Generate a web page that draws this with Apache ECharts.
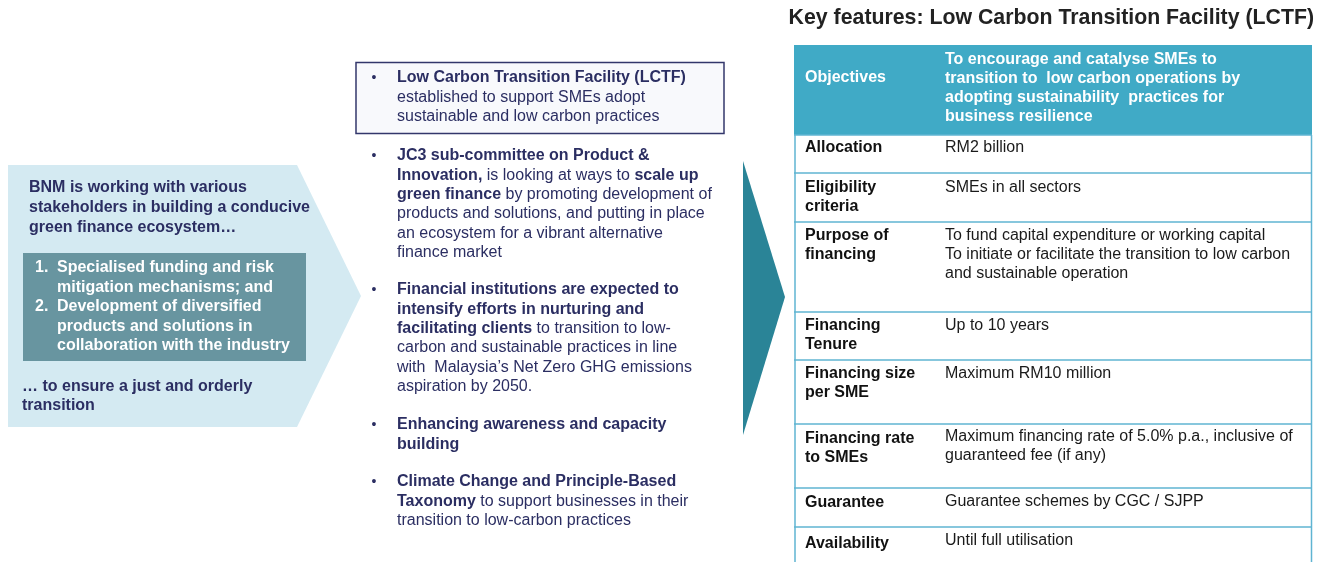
<!DOCTYPE html>
<html><head><meta charset="utf-8">
<script src="https://cdn.jsdelivr.net/npm/echarts@6/dist/echarts.min.js"></script>
<style>html,body{margin:0;padding:0;background:#fff}#c{width:1325px;height:562px}</style>
</head><body><div id="c"></div>
<script>
// ---------- content (text data) ----------
const titleText = 'Key features: Low Carbon Transition Facility (LCTF)';
const leftIntro = ['BNM is working with various', 'stakeholders in building a conducive', 'green finance ecosystem…'];
const leftItemNumbers = ['1.', '', '2.', '', ''];
const leftItems = ['Specialised funding and risk', 'mitigation mechanisms; and', 'Development of diversified', 'products and solutions in', 'collaboration with the industry'];
const leftOutro = ['… to ensure a just and orderly', 'transition'];
const bulletPoints = [
  '{b|Low Carbon Transition Facility (LCTF)}\nestablished to support SMEs adopt\nsustainable and low carbon practices',
  '{b|JC3 sub-committee on Product &}\n{b|Innovation,} is looking at ways to {b|scale up}\n{b|green finance} by promoting development of\nproducts and solutions, and putting in place\nan ecosystem for a vibrant alternative\nfinance market',
  '{b|Financial institutions are expected to}\n{b|intensify efforts in nurturing and}\n{b|facilitating clients} to transition to low-\ncarbon and sustainable practices in line\nwith  Malaysia’s Net Zero GHG emissions\naspiration by 2050.',
  '{b|Enhancing awareness and capacity}\n{b|building}',
  '{b|Climate Change and Principle-Based}\n{b|Taxonomy} to support businesses in their\ntransition to low-carbon practices'
];
const tableLabels = ['Objectives', 'Allocation', 'Eligibility\ncriteria', 'Purpose of\nfinancing', 'Financing\nTenure', 'Financing size\nper SME', 'Financing rate\nto SMEs', 'Guarantee', 'Availability'];
const tableValues = [
  'To encourage and catalyse SMEs to\ntransition to  low carbon operations by\nadopting sustainability  practices for\nbusiness resilience',
  'RM2 billion',
  'SMEs in all sectors',
  'To fund capital expenditure or working capital\nTo initiate or facilitate the transition to low carbon\nand sustainable operation',
  'Up to 10 years',
  'Maximum RM10 million',
  'Maximum financing rate of 5.0% p.a., inclusive of\nguaranteed fee (if any)',
  'Guarantee schemes by CGC / SJPP',
  'Until full utilisation'
];

// ---------- layout (positions / sizes / styles) ----------
const FONT = "'Liberation Sans', Arial, Helvetica, sans-serif";
const NAVY = '#2b2e62';
const bulletFirstLineCenters = [78, 156, 290, 425, 482];
const rowLines = [135, 173, 222, 312, 360, 424, 488, 527];
const labelCenters = [78, 148, 188, 236, 326, 374, 439, 503, 544];
const valueCenters = [60, 148, 188, 236, 326, 374, 437, 502, 541];

const chart = echarts.init(document.getElementById('c'), null, {renderer: 'canvas'});
const g = [];

// left chevron
g.push({type: 'polygon', shape: {points: [[8,165],[297,165],[361,296],[297,427],[8,427]]}, style: {fill: '#d4eaf2'}});
g.push({type: 'rect', shape: {x: 23, y: 253, width: 283, height: 108}, style: {fill: '#6895a0'}});
g.push({type: 'text', x: 29, y: 188 - 10, style: {text: leftIntro.join('\n'), font: 'bold 16px ' + FONT, lineHeight: 20, fill: NAVY, textVerticalAlign: 'top'}});
g.push({type: 'text', x: 35, y: 268 - 9.75, style: {text: leftItemNumbers.join('\n'), font: 'bold 16px ' + FONT, lineHeight: 19.5, fill: '#ffffff', textVerticalAlign: 'top'}});
g.push({type: 'text', x: 57, y: 268 - 9.75, style: {text: leftItems.join('\n'), font: 'bold 16px ' + FONT, lineHeight: 19.5, fill: '#ffffff', textVerticalAlign: 'top'}});
g.push({type: 'text', x: 22, y: 387 - 9.5, style: {text: leftOutro.join('\n'), font: 'bold 16px ' + FONT, lineHeight: 19, fill: NAVY, textVerticalAlign: 'top'}});

// middle column
g.push({type: 'rect', shape: {x: 356, y: 62.5, width: 368, height: 71}, style: {fill: '#f8f9fc', stroke: '#33376b', lineWidth: 1.5}});
bulletPoints.forEach((txt, i) => {
  const c = bulletFirstLineCenters[i];
  g.push({type: 'text', x: 374, y: c, style: {text: '•', font: '14px ' + FONT, fill: NAVY, textAlign: 'center', textVerticalAlign: 'middle'}});
  g.push({type: 'text', x: 397, y: c - 9.65, style: {
    text: txt, font: '16px ' + FONT, fill: NAVY, lineHeight: 19.3, textVerticalAlign: 'top',
    rich: {b: {fontFamily: FONT, fontSize: 16, fontWeight: 'bold', fill: NAVY, lineHeight: 19.3}}
  }});
});

// dark teal arrow
g.push({type: 'polygon', shape: {points: [[743,161],[785,297],[743,435]]}, style: {fill: '#2a8497'}});

// title
g.push({type: 'text', x: 1314, y: 18, style: {text: titleText, font: 'bold 21.3px ' + FONT, fill: '#222222', textAlign: 'right', textVerticalAlign: 'middle'}});

// table
g.push({type: 'rect', shape: {x: 794, y: 45, width: 518, height: 90}, style: {fill: '#40aac6'}});
g.push({type: 'line', shape: {x1: 795, y1: 135, x2: 795, y2: 562}, style: {stroke: '#5fb4d2', lineWidth: 1.5}});
g.push({type: 'line', shape: {x1: 1311.5, y1: 135, x2: 1311.5, y2: 562}, style: {stroke: '#5fb4d2', lineWidth: 1.5}});
rowLines.forEach(y => {
  g.push({type: 'line', shape: {x1: 794, y1: y, x2: 1312, y2: y}, style: {stroke: '#5fb4d2', lineWidth: 1.5}});
});
tableLabels.forEach((lab, i) => {
  const header = i === 0;
  g.push({type: 'text', x: 805, y: labelCenters[i] - 9.5, style: {text: lab, font: 'bold 16px ' + FONT, lineHeight: 19, fill: header ? '#ffffff' : '#111111', textVerticalAlign: 'top'}});
  g.push({type: 'text', x: 945, y: valueCenters[i] - 9.5, style: {text: tableValues[i], font: (header ? 'bold ' : '') + '16px ' + FONT, lineHeight: 19, fill: header ? '#ffffff' : '#1a1a1a', textVerticalAlign: 'top'}});
});

chart.setOption({animation: false, graphic: {elements: g}});
</script>
</body></html>
